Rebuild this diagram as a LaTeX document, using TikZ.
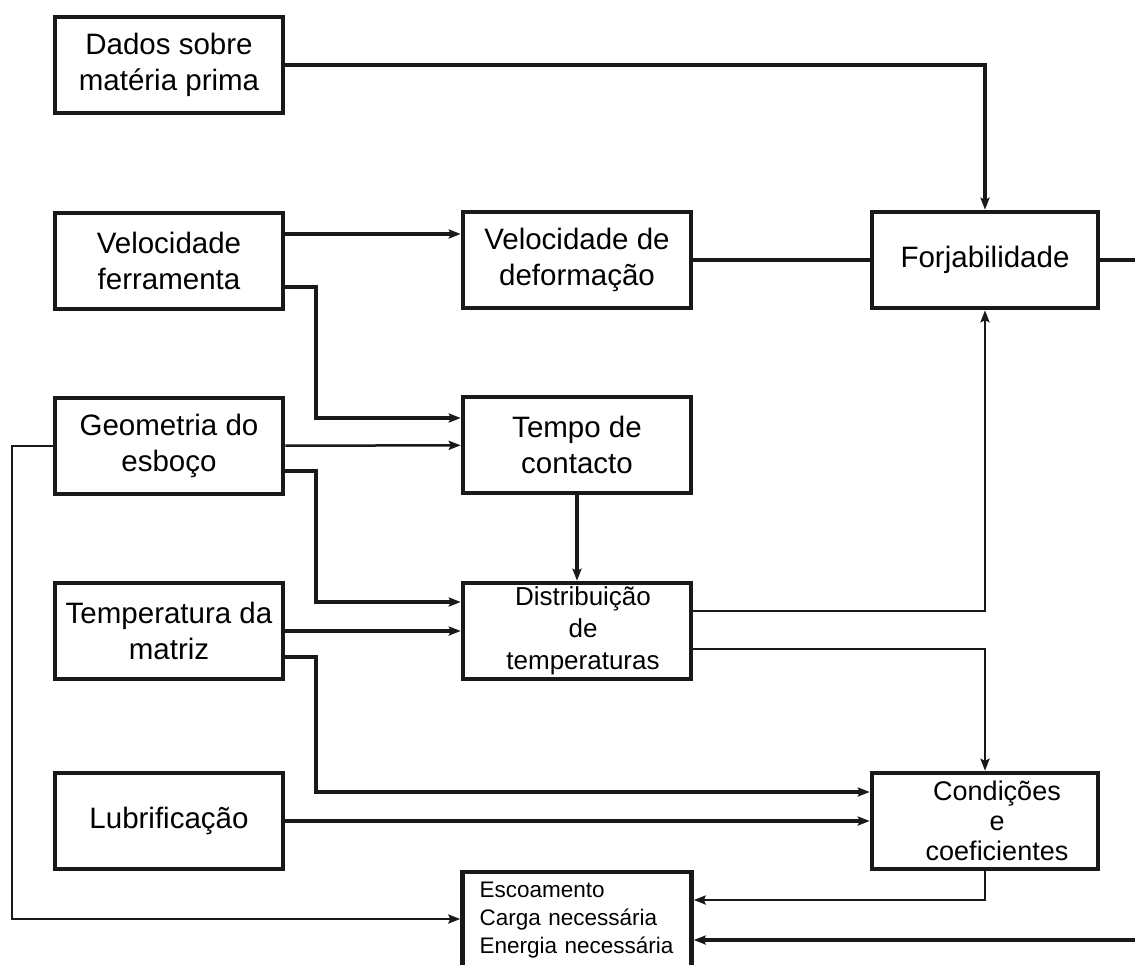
\documentclass[tikz,border=0pt]{standalone}
\usepackage{fontspec}
\setmainfont{Liberation Sans}
\usepackage{tikz}
\usetikzlibrary{arrows.meta}
\tikzset{
  blk/.style={draw=black!90, line width=4.5pt, minimum width=228pt, minimum height=96pt,
    inner sep=0pt, align=center, font=\fontsize{29.5}{36}\selectfont},
  thk/.style={draw=black!90, line width=4pt},
  thn/.style={draw=black!90, line width=2.5pt},
  arr/.style={-{Stealth[length=12pt,width=9pt,inset=2pt]}},
}

\begin{document}
\begin{tikzpicture}[x=1pt, y=-1pt]
    \useasboundingbox (0,0) rectangle (1135,964);
    \clip (0,0) rectangle (1135,964);
    % inputs
    \node[blk] (dados) at (169,65) {Dados sobre\\mat\'eria prima};
    \node[blk] (velf)  at (169,261) {Velocidade\\ferramenta};
    \node[blk] (geo)   at (169,446) {Geometria do\\esbo\c{c}o};
    \node[blk] (tmat)  at (169,631) {Temperatura da\\matriz};
    \node[blk] (lub)   at (169,821) {Lubrifica\c{c}\~ao};
    % middle column
    \node[blk] (veld)  at (577,260) {Velocidade de\\deforma\c{c}\~ao};
    \node[blk] (tempo) at (577,445) {Tempo de\\contacto};
    \node[blk, font=\fontsize{26}{32}\selectfont] (dist) at (577,631)
        {\hspace*{12pt}Distribui\c{c}\~ao\\\hspace*{12pt}de\\\hspace*{12pt}temperaturas};
    \node[blk, minimum height=96pt, align=left, text width=195pt, inner xsep=17pt,
        font=\fontsize{22.5}{28}\selectfont] (esc) at (577,920)
        {Escoamento\\Carga necess\'aria\\Energia necess\'aria};
    % right column
    \node[blk, minimum width=226pt] (forj) at (985,260) {Forjabilidade};
    \node[blk, minimum width=226pt, font=\fontsize{27}{30}\selectfont] (cond) at (985,821)
        {\hspace*{24pt}Condi\c{c}\~oes\\\hspace*{24pt}e\\\hspace*{24pt}coeficientes};
    % ends off the page
    \coordinate (outR) at (1140,260);
    \coordinate (inR) at (1140,940);
    \coordinate (loopL) at (12,446);

    % thick connectors
    \draw[thk, arr] (dados) -| (forj);
    \draw[thk, arr] ([yshift=27pt]velf.east) -- ([yshift=27pt]velf.east -| veld.west);
    \draw[thk, arr] ([yshift=-26pt]velf.east) -- ++(31,0) |- ([yshift=27pt]tempo.west);
    \draw[thk] (veld) -- (forj);
    \draw[thk] (forj) -- (outR);
    \draw[thk, arr] (tempo) -- (dist);
    \draw[thk, arr] ([yshift=-25pt]geo.east) -- ++(31,0) |- ([yshift=29pt]dist.west);
    \draw[thk, arr] (tmat) -- (dist);
    \draw[thk, arr] ([yshift=-26pt]tmat.east) -- ++(31,0) |- ([yshift=29pt]cond.west);
    \draw[thk, arr] (lub) -- (cond);
    \draw[thk, arr] (inR) -- ([yshift=-20pt]esc.east);
    % thin connectors
    \draw[thn, arr] (geo) -- (tempo);
    \draw[thn, arr] (geo) -- (loopL) |- ([yshift=1pt]esc.west);
    \draw[thn, arr] ([yshift=20pt]dist.east) -| (forj);
    \draw[thn, arr] ([yshift=-18pt]dist.east) -| (cond);
    \draw[thn, arr] (cond) |- ([yshift=20pt]esc.east);
\end{tikzpicture}
\end{document}
